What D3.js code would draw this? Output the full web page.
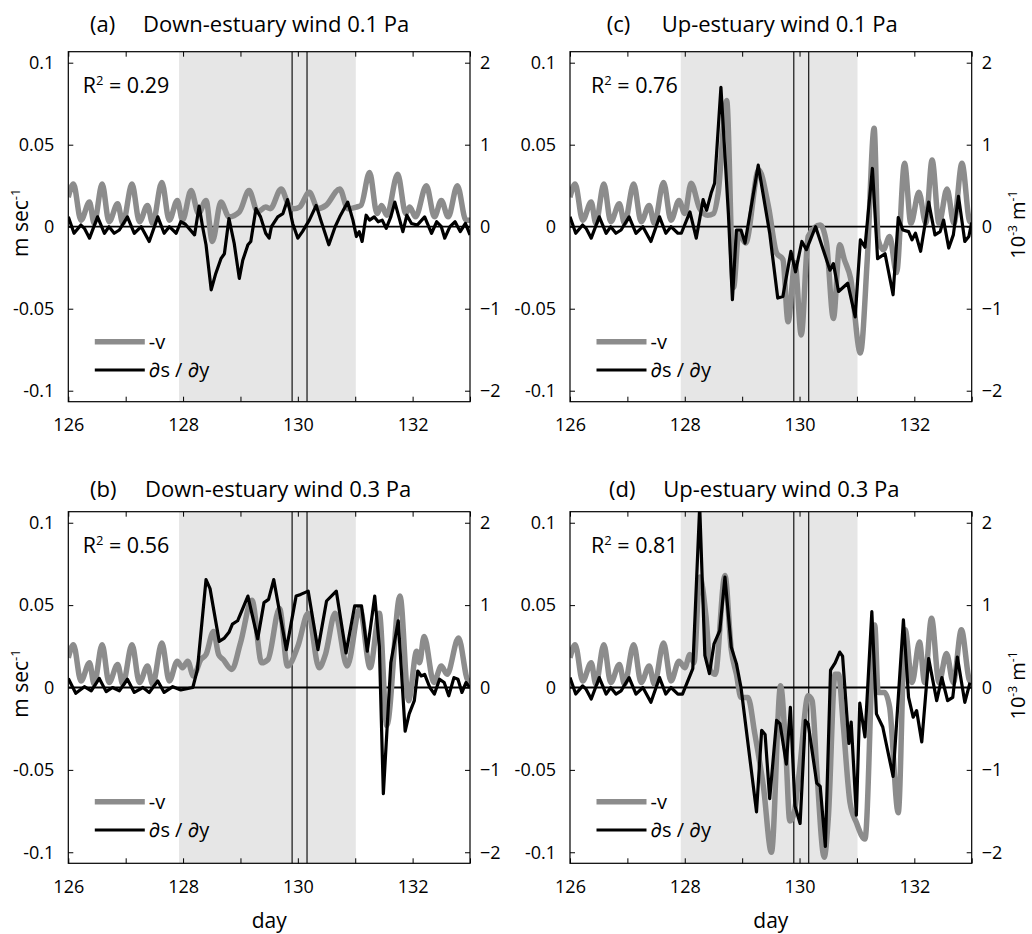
<!DOCTYPE html>
<html><head><meta charset="utf-8">
<script src="https://cdn.jsdelivr.net/npm/d3@7"></script>
<style>
body{margin:0;background:#fff}
text{font-family:"Open Sans","Noto Sans",sans-serif;fill:#000}
</style>
</head><body>
<svg id="chart" width="1032" height="934"></svg>
<script>
// ---------- data ----------
const dayTicks = [126, 128, 130, 132];
const dayMinorTicks = [126, 127, 128, 129, 130, 131, 132, 133];
const leftTicks = [-0.1, -0.05, 0, 0.05, 0.1];
const leftTickLabels = ["-0.1", "-0.05", "0", "0.05", "0.1"];
const rightTicks = [-2, -1, 0, 1, 2];
const shadeSpan = [127.93, 131.01];
const markerDays = [129.9, 130.16];
const r2Values = ["0.29", "0.56", "0.76", "0.81"];
const panelLetters = ["(a)", "(b)", "(c)", "(d)"];
const panelTitles = ["Down-estuary wind 0.1 Pa", "Down-estuary wind 0.3 Pa", "Up-estuary wind 0.1 Pa", "Up-estuary wind 0.3 Pa"];
const seriesNames = ["-v", "\u2202s / \u2202y"];

// -v (m/s), common spin-up before day 128
const vPre = [[126.0,0.018],[126.09,0.026],[126.22,0.004],[126.37,0.015],[126.45,0.002],[126.59,0.026],[126.71,0.003],[126.86,0.014],[126.95,0.002],[127.11,0.026],[127.24,0.003],[127.38,0.013],[127.47,0.002],[127.63,0.027],[127.76,0.004],[127.9,0.016]];
// ds/dy (1e-3 1/m), common spin-up before day 128
const dsdyPre = [[126.0,0.12],[126.1,-0.08],[126.22,0.02],[126.28,-0.02],[126.37,-0.14],[126.51,0.12],[126.63,-0.08],[126.71,0.0],[126.8,-0.08],[126.89,-0.04],[127.03,0.12],[127.15,-0.08],[127.27,0.0],[127.41,-0.18],[127.56,0.12],[127.67,-0.08],[127.76,0.0],[127.88,-0.08]];
const dsdyPreB = [[126.0,0.11],[126.13,-0.07],[126.28,0.01],[126.4,-0.04],[126.54,0.11],[126.66,-0.05],[126.77,0.0],[126.89,-0.04],[127.03,0.1],[127.15,-0.06],[127.3,0.0],[127.41,-0.06],[127.56,0.08],[127.67,-0.06],[127.82,0.01],[127.96,-0.03]];

// (a) down-estuary 0.1 Pa
const vDown01 = [[127.99,0.004],[128.14,0.022],[128.27,0.008],[128.4,0.016],[128.51,-0.009],[128.66,0.015],[128.8,0.006],[128.98,0.009],[129.15,0.022],[129.3,0.009],[129.44,0.012],[129.52,0.011],[129.71,0.023],[129.83,0.014],[129.93,0.011],[130.03,0.012],[130.2,0.021],[130.35,0.011],[130.49,0.013],[130.73,0.023],[130.87,0.011],[131.02,0.012],[131.1,0.013],[131.25,0.033],[131.38,0.008],[131.46,0.013],[131.55,0.007],[131.74,0.032],[131.88,0.008],[131.95,0.012],[132.05,0.006],[132.24,0.025],[132.38,0.006],[132.5,0.016],[132.62,0.006],[132.78,0.025],[132.93,0.004],[133.0,0.004]];
const dsdyDown01 = [[127.96,0.06],[128.04,0.03],[128.2,-0.1],[128.28,0.25],[128.34,0.0],[128.4,-0.22],[128.49,-0.77],[128.57,-0.57],[128.66,-0.39],[128.72,-0.33],[128.8,0.1],[128.89,-0.2],[128.98,-0.63],[129.04,-0.41],[129.13,-0.22],[129.18,-0.18],[129.27,0.22],[129.35,0.12],[129.44,-0.08],[129.5,-0.14],[129.54,0.0],[129.65,0.12],[129.74,0.16],[129.82,0.33],[129.91,0.04],[130.0,-0.14],[130.08,-0.06],[130.2,0.08],[130.32,0.26],[130.4,0.08],[130.54,-0.22],[130.65,0.0],[130.73,0.12],[130.87,0.3],[130.96,0.08],[131.02,-0.12],[131.07,-0.06],[131.12,-0.18],[131.19,0.14],[131.25,0.08],[131.33,0.12],[131.4,0.06],[131.47,0.08],[131.54,-0.02],[131.62,0.12],[131.69,0.3],[131.76,0.12],[131.83,-0.06],[131.9,0.14],[131.98,0.04],[132.08,0.02],[132.21,0.12],[132.33,-0.08],[132.42,0.06],[132.5,0.0],[132.56,-0.14],[132.65,0.0],[132.74,0.06],[132.83,-0.06],[132.92,0.04],[133.0,-0.1]];

// (b) down-estuary 0.3 Pa
const vDown03 = [[127.99,0.012],[128.08,0.016],[128.18,0.007],[128.31,0.017],[128.4,0.02],[128.53,0.034],[128.62,0.02],[128.7,0.017],[128.85,0.011],[129.0,0.027],[129.2,0.053],[129.37,0.015],[129.48,0.017],[129.68,0.048],[129.82,0.013],[130.0,0.025],[130.18,0.045],[130.37,0.012],[130.48,0.02],[130.65,0.045],[130.86,0.013],[131.08,0.048],[131.26,0.012],[131.42,0.045],[131.55,-0.023],[131.78,0.0555],[131.93,-0.008],[132.07,0.022],[132.12,0.015],[132.2,0.031],[132.37,0.003],[132.5,0.013],[132.6,0.008],[132.8,0.03],[132.97,0.004],[133.0,0.004]];
const dsdyDown03 = [[128.17,0.0],[128.25,0.22],[128.4,1.31],[128.47,1.2],[128.63,0.56],[128.72,0.6],[128.8,0.67],[128.86,0.77],[128.95,0.81],[129.13,1.11],[129.3,0.59],[129.41,1.03],[129.49,1.07],[129.58,1.31],[129.8,0.46],[129.97,1.11],[130.05,1.13],[130.18,1.17],[130.35,0.46],[130.5,1.05],[130.67,1.17],[130.84,0.42],[130.99,0.99],[131.11,0.99],[131.21,0.44],[131.34,1.11],[131.42,0.5],[131.49,-1.29],[131.62,0.3],[131.75,0.81],[131.87,-0.53],[131.94,-0.32],[132.03,-0.16],[132.09,0.2],[132.15,0.14],[132.21,0.16],[132.3,0.0],[132.38,-0.08],[132.47,0.1],[132.55,0.06],[132.63,-0.1],[132.72,0.12],[132.79,0.1],[132.86,-0.06],[132.93,0.06],[133.0,0.0]];

// (c) up-estuary 0.1 Pa
const vUp01 = [[128.0,0.008],[128.11,0.0265],[128.26,0.011],[128.4,0.007],[128.5,0.008],[128.58,0.02],[128.73,0.077],[128.85,-0.037],[128.94,-0.004],[129.06,-0.01],[129.29,0.0346],[129.46,0.012],[129.6,-0.016],[129.71,-0.02],[129.8,-0.058],[129.92,-0.022],[130.03,-0.066],[130.15,-0.006],[130.36,0.001],[130.47,-0.01],[130.59,-0.056],[130.7,-0.011],[130.78,-0.02],[130.89,-0.0315],[131.06,-0.077],[131.18,-0.02],[131.3,0.06],[131.37,-0.008],[131.46,-0.014],[131.57,-0.006],[131.69,-0.028],[131.83,0.0387],[131.94,0.002],[132.08,0.021],[132.2,0.002],[132.31,0.0407],[132.43,0.002],[132.57,0.023],[132.69,0.002],[132.83,0.0387],[132.97,0.003],[133.0,0.003]];
const dsdyUp01 = [[127.94,-0.08],[128.09,0.18],[128.2,-0.14],[128.32,0.33],[128.38,0.2],[128.46,0.41],[128.52,0.53],[128.63,1.7],[128.76,0.16],[128.83,-0.89],[128.9,-0.04],[128.98,-0.04],[129.05,-0.2],[129.28,0.75],[129.48,-0.08],[129.62,-0.87],[129.71,-0.85],[129.85,-0.3],[129.93,-0.55],[130.04,-0.18],[130.12,-0.28],[130.28,0.0],[130.53,-0.53],[130.59,-0.45],[130.68,-0.79],[130.84,-0.69],[130.97,-1.1],[131.06,-0.16],[131.14,-0.25],[131.27,0.71],[131.36,-0.39],[131.49,-0.33],[131.63,-0.83],[131.72,0.11],[131.8,-0.04],[131.9,-0.06],[131.96,-0.16],[132.02,-0.08],[132.11,-0.3],[132.25,0.3],[132.36,-0.1],[132.45,-0.06],[132.51,0.08],[132.6,-0.26],[132.68,-0.1],[132.77,0.37],[132.88,-0.18],[132.95,-0.12],[133.0,0.05]];

// (d) up-estuary 0.3 Pa
const vUp03 = [[128.0,0.012],[128.09,0.02],[128.16,0.015],[128.26,0.067],[128.37,0.043],[128.45,0.01],[128.53,0.008],[128.7,0.068],[128.81,0.023],[128.9,0.008],[128.98,-0.006],[129.1,-0.006],[129.22,-0.028],[129.37,-0.06],[129.51,-0.1],[129.67,0.001],[129.76,-0.038],[129.83,-0.081],[129.9,-0.077],[130.0,-0.05],[130.15,-0.005],[130.22,-0.008],[130.3,-0.05],[130.43,-0.103],[130.5,-0.08],[130.62,0.008],[130.68,0.008],[130.76,-0.022],[130.88,-0.07],[130.99,-0.082],[131.14,-0.092],[131.31,0.038],[131.37,-0.003],[131.48,-0.003],[131.57,-0.012],[131.72,-0.076],[131.84,0.035],[131.96,0.003],[132.09,0.0276],[132.18,0.003],[132.3,0.042],[132.43,0.003],[132.56,0.0206],[132.68,0.003],[132.82,0.035],[132.97,0.004],[133.0,0.004]];
const dsdyUp03 = [[127.96,-0.08],[128.14,0.23],[128.26,2.2],[128.35,0.39],[128.43,0.17],[128.51,0.53],[128.61,0.69],[128.7,1.34],[128.81,0.49],[128.9,0.29],[128.98,0.0],[129.25,-1.51],[129.34,-0.52],[129.4,-0.57],[129.48,-1.35],[129.6,-0.4],[129.66,-0.44],[129.77,-0.93],[129.84,-0.24],[129.92,-1.44],[130.01,-1.65],[130.1,-0.4],[130.15,-0.44],[130.3,-1.16],[130.36,-1.2],[130.45,-1.93],[130.54,0.21],[130.62,0.3],[130.7,0.43],[130.75,0.38],[130.86,-0.68],[130.9,-0.42],[130.99,-1.55],[131.05,-0.19],[131.14,-0.6],[131.26,0.92],[131.34,-0.32],[131.45,-0.48],[131.63,-1.08],[131.81,0.82],[131.9,-0.12],[131.98,-0.36],[132.04,-0.28],[132.13,-0.66],[132.25,0.35],[132.39,-0.16],[132.48,0.12],[132.58,-0.16],[132.67,-0.12],[132.75,0.37],[132.88,-0.18],[132.97,0.06]];

// ---------- layout ----------
const GRAY = "#8c8c8c", SHADE = "#e6e6e6";
const FONT = '"Open Sans","Noto Sans",sans-serif';
const panels = [
  {i:0, v:vPre.concat(vDown01), s:dsdyPre.concat(dsdyDown01), x0:68.3, x1:470, y0:51.7, y1:401.7, letterX:90, titleX:143, titleY:32, r2X:82.7, leftLabel:true, rightLabel:false, dayLabel:false},
  {i:1, v:vPre.concat(vDown03), s:dsdyPreB.concat(dsdyDown03), x0:68.3, x1:470, y0:511.7, y1:863.3, letterX:90, titleX:145, titleY:497, r2X:82.7, leftLabel:true, rightLabel:false, dayLabel:true},
  {i:2, v:vPre.concat(vUp01), s:dsdyPre.concat(dsdyUp01), x0:570, x1:971.7, y0:51.7, y1:401.7, letterX:606.7, titleX:661.7, titleY:32, r2X:591, leftLabel:false, rightLabel:true, dayLabel:false},
  {i:3, v:vPre.concat(vUp03), s:dsdyPre.concat(dsdyUp03), x0:570, x1:971.7, y0:511.7, y1:863.3, letterX:609, titleX:663.3, titleY:497, r2X:591, leftLabel:false, rightLabel:true, dayLabel:true}
];

const svg = d3.select("#chart");
const defs = svg.append("defs");

panels.forEach(p => {
  const x = d3.scaleLinear().domain([126, 133]).range([p.x0, p.x1]);
  const yL = d3.scaleLinear().domain([-0.1067, 0.1067]).range([p.y1, p.y0]);
  const yR = d3.scaleLinear().domain([-2.134, 2.134]).range([p.y1, p.y0]);
  const g = svg.append("g");
  const clipId = "clip" + p.i;
  defs.append("clipPath").attr("id", clipId).append("rect")
    .attr("x", p.x0).attr("y", p.y0).attr("width", p.x1 - p.x0).attr("height", p.y1 - p.y0);
  const plot = g.append("g").attr("clip-path", `url(#${clipId})`);

  // shaded interval
  plot.append("rect").attr("x", x(shadeSpan[0])).attr("width", x(shadeSpan[1]) - x(shadeSpan[0]))
    .attr("y", p.y0).attr("height", p.y1 - p.y0).attr("fill", SHADE);
  // marker lines
  plot.selectAll(".mk").data(markerDays).enter().append("line")
    .attr("x1", d => x(d)).attr("x2", d => x(d)).attr("y1", p.y0).attr("y2", p.y1)
    .attr("stroke", "#000").attr("stroke-width", 1.1);
  // zero line
  plot.append("line").attr("x1", p.x0).attr("x2", p.x1).attr("y1", yL(0)).attr("y2", yL(0))
    .attr("stroke", "#000").attr("stroke-width", 1.8);
  // series
  const lineV = d3.line().x(d => x(d[0])).y(d => yL(d[1])).curve(d3.curveMonotoneX);
  const lineS = d3.line().x(d => x(d[0])).y(d => yR(d[1])).curve(d3.curveLinear);
  plot.append("path").datum(p.v).attr("d", lineV).attr("fill", "none")
    .attr("stroke", GRAY).attr("stroke-width", 5.5).attr("stroke-linejoin", "round");
  plot.append("path").datum(p.s).attr("d", lineS).attr("fill", "none")
    .attr("stroke", "#000").attr("stroke-width", 3.2).attr("stroke-linejoin", "round");

  // legend
  const lx = p.x0 + 26.5, ly = p.y0 + 290;
  [[GRAY, 5.5], ["#000", 3.2]].forEach((st, k) => {
    const yy = ly + k * 28.3;
    g.append("line").attr("x1", lx).attr("x2", lx + 50).attr("y1", yy).attr("y2", yy)
      .attr("stroke", st[0]).attr("stroke-width", st[1]);
    g.append("text").attr("x", lx + 54).attr("y", yy).attr("dy", "0.35em")
      .style("font-size", "20px").text(seriesNames[k]);
  });

  // R^2
  const r2 = g.append("text").attr("x", p.r2X).attr("y", p.y0 + 41).style("font-size", "21.5px");
  r2.append("tspan").text("R");
  r2.append("tspan").attr("dy", -8).style("font-size", "13px").text("2");
  r2.append("tspan").attr("dy", 8).text(" = " + r2Values[p.i]);

  // axes (inward ticks)
  const axB = d3.axisBottom(x).tickValues(dayMinorTicks).tickSize(-5).tickPadding(17)
    .tickFormat(d => dayTicks.includes(d) ? d3.format("d")(d) : "");
  const axT = d3.axisTop(x).tickValues(dayMinorTicks).tickSize(-5).tickFormat("");
  const axL = d3.axisLeft(yL).tickValues(leftTicks).tickSize(-5).tickPadding(14)
    .tickFormat((d, k) => leftTickLabels[k]);
  const axR = d3.axisRight(yR).tickValues(rightTicks).tickSize(-5).tickPadding(10)
    .tickFormat(d3.format("d"));
  const style = sel => {
    sel.select(".domain").remove();
    sel.selectAll("line").attr("stroke", "#000");
    sel.selectAll("text").style("font-size", "18px").attr("fill", "#000").style("font-family", FONT);
  };
  g.append("g").attr("transform", `translate(0,${p.y1})`).call(axB).call(style);
  g.append("g").attr("transform", `translate(0,${p.y0})`).call(axT).call(style);
  g.append("g").attr("transform", `translate(${p.x0},0)`).call(axL).call(style);
  g.append("g").attr("transform", `translate(${p.x1},0)`).call(axR).call(style);

  // frame
  g.append("rect").attr("x", p.x0).attr("y", p.y0).attr("width", p.x1 - p.x0).attr("height", p.y1 - p.y0)
    .attr("fill", "none").attr("stroke", "#000").attr("stroke-width", 1.2);

  // title
  g.append("text").attr("x", p.letterX).attr("y", p.titleY).style("font-size", "22px").text(panelLetters[p.i]);
  g.append("text").attr("x", p.titleX).attr("y", p.titleY).style("font-size", "22px").text(panelTitles[p.i]);

  const cy = (p.y0 + p.y1) / 2;
  if (p.leftLabel) {
    const t = g.append("text").attr("transform", `translate(28,${cy - 4}) rotate(-90)`)
      .attr("text-anchor", "middle").style("font-size", "21px");
    t.append("tspan").text("m sec");
    t.append("tspan").attr("dy", -8).style("font-size", "13px").text("-1");
  }
  if (p.rightLabel) {
    const t = g.append("text").attr("transform", `translate(1025,${cy - 2}) rotate(-90)`)
      .attr("text-anchor", "middle").style("font-size", "20px");
    t.append("tspan").text("10");
    t.append("tspan").attr("dy", -8).style("font-size", "12px").text("-3");
    t.append("tspan").attr("dy", 8).text(" m");
    t.append("tspan").attr("dy", -8).style("font-size", "12px").text("-1");
  }
  if (p.dayLabel) {
    g.append("text").attr("x", (p.x0 + p.x1) / 2).attr("y", 928).attr("text-anchor", "middle")
      .style("font-size", "21px").text("day");
  }
});
</script>
</body></html>
